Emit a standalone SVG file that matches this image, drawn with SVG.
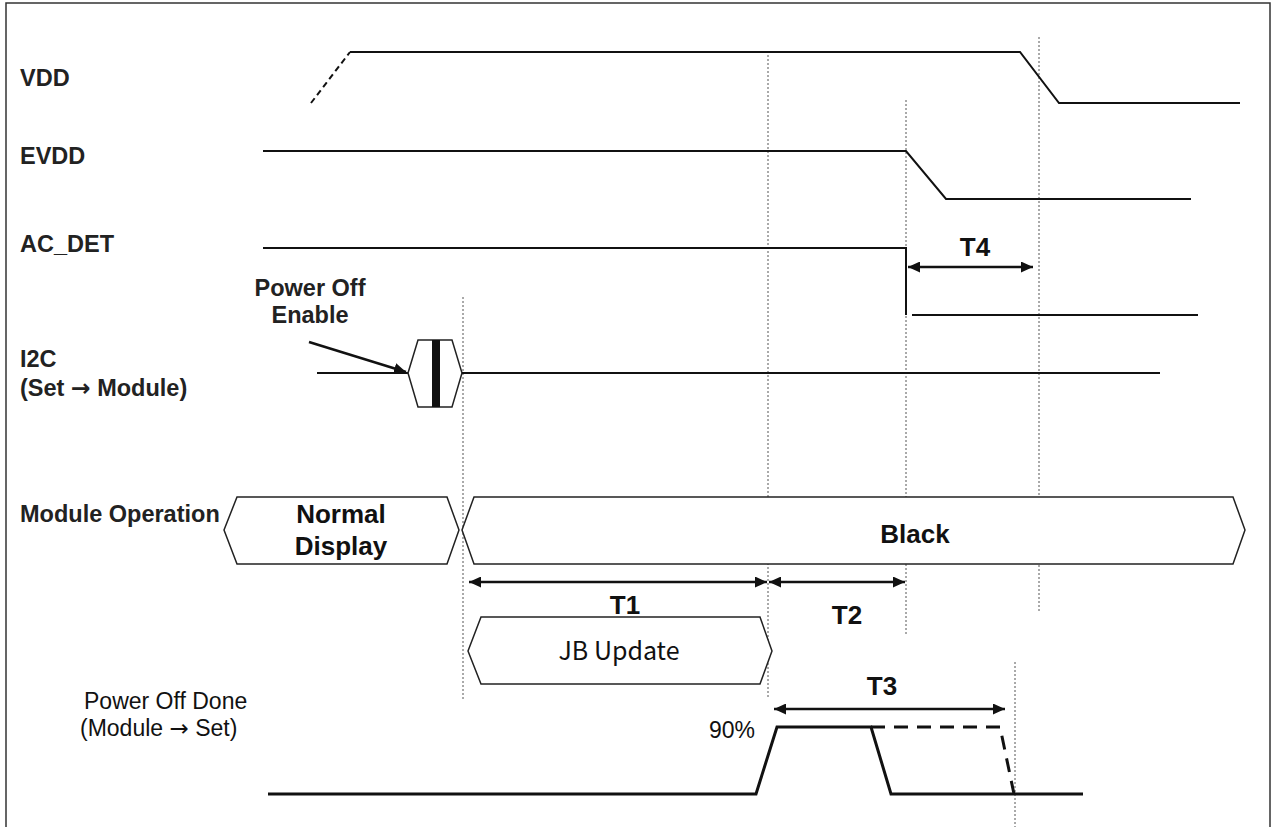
<svg xmlns="http://www.w3.org/2000/svg" width="1277" height="827" viewBox="0 0 1277 827">
<defs>
<style>
.lbl{font-family:"Liberation Sans",Arial,sans-serif;font-weight:bold;font-size:23.5px;fill:#222}
.big{font-family:"Liberation Sans",Arial,sans-serif;font-weight:bold;font-size:26px;fill:#111;text-anchor:middle}
.reg{font-family:"Liberation Sans",Arial,sans-serif;font-size:23px;fill:#111}
.kr{font-family:"Noto Sans CJK KR","Noto Sans",sans-serif;font-size:25px;fill:#111;text-anchor:middle}
.sym{font-family:"DejaVu Sans",sans-serif}
.sig{fill:none;stroke:#111;stroke-width:2}
.pod{fill:none;stroke:#111;stroke-width:3}
.dot{fill:none;stroke:#555;stroke-width:1;stroke-dasharray:2,2}
.hex{fill:#fff;stroke:#222;stroke-width:1.5}
.arr{fill:none;stroke:#111;stroke-width:2.5}
</style>
<marker id="ah" markerUnits="userSpaceOnUse" markerWidth="13" markerHeight="11" refX="12" refY="5.5" orient="auto-start-reverse">
<path d="M0,0 L12,5.5 L0,11 z" fill="#111"/>
</marker>
</defs>
<rect x="6" y="3" width="1264" height="840" fill="#fff" stroke="#333" stroke-width="1.5"/>

<g id="guides">
<line class="dot" x1="463" y1="297" x2="463" y2="700"/>
<line class="dot" x1="768" y1="55" x2="768" y2="697"/>
<line class="dot" x1="906" y1="100" x2="906" y2="635"/>
<line class="dot" x1="1039" y1="37" x2="1039" y2="612"/>
<line class="dot" x1="1015" y1="662" x2="1015" y2="827"/>
</g>

<g id="vdd">
<text class="lbl" x="20" y="86">VDD</text>
<line class="sig" x1="311" y1="103" x2="350" y2="52" stroke-dasharray="6,4"/>
<polyline class="sig" points="350,52 1020,52 1059,103 1240,103"/>
</g>

<g id="evdd">
<text class="lbl" x="20" y="164">EVDD</text>
<polyline class="sig" points="263,151 906,151 946,199 1191,199"/>
</g>

<g id="ac_det">
<text class="lbl" x="20" y="252">AC_DET</text>
<polyline class="sig" points="263,248 906,248 906,315"/>
<line class="sig" x1="912" y1="315" x2="1198" y2="315"/>
<text class="big" x="975" y="256" font-size="24">T4</text>
</g>

<g id="i2c">
<text class="lbl" x="20" y="367">I2C</text>
<text class="lbl" x="20" y="396">(Set <tspan class="sym">→</tspan> Module)</text>
<line class="sig" x1="317" y1="373" x2="408" y2="373"/>
<polygon class="hex" points="408,373 418,340 452,340 462,373 452,407 418,407"/>
<rect x="432" y="340" width="8" height="67" fill="#111"/>
<line class="sig" x1="462" y1="373" x2="1160" y2="373"/>
<text class="lbl" x="310" y="296" text-anchor="middle" font-size="22">Power Off</text>
<text class="lbl" x="310" y="323" text-anchor="middle" font-size="22">Enable</text>
</g>

<g id="module_operation">
<text class="lbl" x="20" y="522">Module Operation</text>
<polygon class="hex" points="224,530 237,497 447,497 459,530 447,564 237,564"/>
<text class="big" x="341" y="523">Normal</text>
<text class="big" x="341" y="555">Display</text>
<polygon class="hex" points="462,530 474,497 1233,497 1245,530 1233,564 474,564"/>
<text class="big" x="915" y="543">Black</text>
</g>

<g id="jb_update">
<polygon class="hex" points="468,651 481,617 760,617 772,651 760,684 481,684"/>
<text class="kr" x="619" y="660">JB Update</text>
<text class="big" x="625" y="614">T1</text>
<text class="big" x="847" y="624">T2</text>
</g>

<g id="power_off_done">
<text class="reg" x="84" y="709">Power Off Done</text>
<text class="reg" x="80" y="736">(Module <tspan class="sym">→</tspan> Set)</text>
<text class="reg" x="755" y="738" text-anchor="end" font-size="28">90%</text>
<polyline class="pod" points="268,794 756,794 777,727 871,727 891,794 1083,794"/>
<polyline class="pod" points="871,727 1000,727 1014,794" stroke-dasharray="14,9"/>
<text class="big" x="882" y="695" font-size="25">T3</text>
</g>

<g id="connectors">
<line class="arr" x1="309" y1="342" x2="406" y2="372" marker-end="url(#ah)"/>
<line class="arr" x1="469" y1="582" x2="767" y2="582" marker-start="url(#ah)" marker-end="url(#ah)"/>
<line class="arr" x1="769" y1="582" x2="905" y2="582" marker-start="url(#ah)" marker-end="url(#ah)"/>
<line class="arr" x1="908" y1="267" x2="1033" y2="267" marker-start="url(#ah)" marker-end="url(#ah)"/>
<line class="arr" x1="774" y1="709" x2="1005" y2="709" marker-start="url(#ah)" marker-end="url(#ah)"/>
</g>
</svg>
